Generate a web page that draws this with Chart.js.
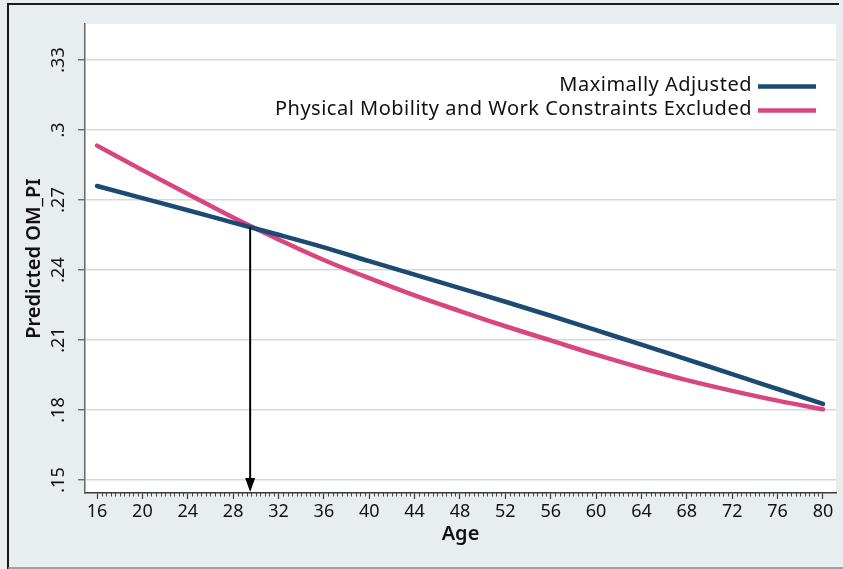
<!DOCTYPE html>
<html>
<head>
<meta charset="utf-8">
<script src="https://cdn.jsdelivr.net/npm/chart.js@4.4.1/dist/chart.umd.min.js"></script>
<style>
  html, body { margin: 0; padding: 0; background: #e8eef0; }
  #wrap { width: 843px; height: 569px; }
</style>
</head>
<body>
<div id="wrap"><canvas id="chart" width="843" height="569"></canvas></div>
<script>
// Age grid and predicted OM_PI for the two model specifications
const ages = [16, 20, 24, 28, 32, 36, 40, 44, 48, 52, 56, 60, 64, 68, 72, 76, 80];
const maximallyAdjusted = [0.2760, 0.2708, 0.2656, 0.2603, 0.2551, 0.2497, 0.2438, 0.2380, 0.2322,
                           0.2264, 0.2204, 0.2142, 0.2080, 0.2017, 0.1954, 0.1890, 0.1826];
const constraintsExcluded = [0.2933, 0.2828, 0.2726, 0.2625, 0.2531, 0.2443, 0.2365, 0.2291, 0.2224,
                             0.2159, 0.2098, 0.2037, 0.1980, 0.1928, 0.1882, 0.1840, 0.1803];
const seriesNames = ['Maximally Adjusted', 'Physical Mobility and Work Constraints Excluded'];

// Axis ticks
const xTicks = [16, 20, 24, 28, 32, 36, 40, 44, 48, 52, 56, 60, 64, 68, 72, 76, 80];
const yTicks = [0.15, 0.18, 0.21, 0.24, 0.27, 0.30, 0.33];
const yTickLabels = ['.15', '.18', '.21', '.24', '.27', '.3', '.33'];

// Age where the two curves meet
const crossingAge = 29.5;
const crossingValue = 0.2583;

const FONT = '"Noto Sans", "DejaVu Sans", sans-serif';
const NAVY = '#1b4a72';
const PINK = '#d9457f';

const framePlugin = {
  id: 'frame',
  beforeDraw(chart) {
    const { ctx, chartArea: a, width, height } = chart;
    ctx.save();
    ctx.fillStyle = '#e8eef0';
    ctx.fillRect(0, 0, width, height);
    ctx.fillStyle = '#ffffff';
    ctx.fillRect(a.left, a.top, a.right - a.left, a.bottom - a.top);
    ctx.strokeStyle = '#1a1a1a';
    ctx.lineWidth = 2;
    ctx.beginPath();
    ctx.moveTo(8, height);
    ctx.lineTo(8, 4);
    ctx.lineTo(839, 4);
    ctx.stroke();
    ctx.strokeStyle = '#888';
    ctx.lineWidth = 1.5;
    ctx.beginPath();
    ctx.moveTo(8, height - 1);
    ctx.lineTo(width, height - 1);
    ctx.stroke();
    ctx.restore();
  }
};

const decorPlugin = {
  id: 'decor',
  afterDatasetsDraw(chart) {
    const { ctx, scales: { x, y } } = chart;
    ctx.save();

    // minor ticks along the age axis
    ctx.strokeStyle = '#444';
    ctx.lineWidth = 1;
    const y0 = y.bottom;
    for (let i = 0; i <= 160; i++) {
      if (i % 10 === 0) continue;
      const px = Math.round(x.getPixelForValue(xTicks[0] + i * 0.4)) + 0.5;
      ctx.beginPath();
      ctx.moveTo(px, y0);
      ctx.lineTo(px, y0 + 3.5);
      ctx.stroke();
    }

    // arrow from the crossing point down to the age axis
    const ax = x.getPixelForValue(crossingAge);
    const ay = y.getPixelForValue(crossingValue);
    ctx.strokeStyle = '#000';
    ctx.fillStyle = '#000';
    ctx.lineWidth = 2;
    ctx.beginPath();
    ctx.moveTo(ax, ay);
    ctx.lineTo(ax, y0 - 12);
    ctx.stroke();
    ctx.beginPath();
    ctx.moveTo(ax, y0 - 1);
    ctx.lineTo(ax - 5, y0 - 15);
    ctx.lineTo(ax + 5, y0 - 15);
    ctx.closePath();
    ctx.fill();

    // legend in the upper right of the plot
    ctx.font = '20px ' + FONT;
    if ('letterSpacing' in ctx) ctx.letterSpacing = '0.5px';
    ctx.textAlign = 'right';
    ctx.textBaseline = 'middle';
    const rows = [85, 109];
    chart.data.datasets.forEach((ds, i) => {
      ctx.fillStyle = '#111';
      ctx.fillText(ds.label, 752, rows[i]);
      ctx.strokeStyle = ds.borderColor;
      ctx.lineWidth = 4.5;
      ctx.beginPath();
      ctx.moveTo(758, rows[i] + 1.5);
      ctx.lineTo(816, rows[i] + 1.5);
      ctx.stroke();
    });
    ctx.restore();
  }
};

new Chart(document.getElementById('chart'), {
  type: 'line',
  data: {
    datasets: [
      {
        label: seriesNames[0],
        data: ages.map((a, i) => ({ x: a, y: maximallyAdjusted[i] })),
        borderColor: NAVY,
        borderWidth: 4.5,
        borderCapStyle: 'round',
        cubicInterpolationMode: 'monotone',
        pointRadius: 0
      },
      {
        label: seriesNames[1],
        data: ages.map((a, i) => ({ x: a, y: constraintsExcluded[i] })),
        borderColor: PINK,
        borderWidth: 4.5,
        borderCapStyle: 'round',
        cubicInterpolationMode: 'monotone',
        pointRadius: 0
      }
    ]
  },
  options: {
    responsive: false,
    animation: false,
    events: [],
    layout: { padding: { left: 0, top: 24, right: 7, bottom: 0 } },
    plugins: { legend: { display: false }, tooltip: { enabled: false } },
    scales: {
      x: {
        type: 'linear',
        min: 14.94,
        max: 81.15,
        afterFit(s) { s.height = 76; },
        afterBuildTicks(s) { s.ticks = xTicks.map(v => ({ value: v })); },
        border: { color: '#3a3a3a', width: 1.5 },
        grid: { drawOnChartArea: false, drawTicks: true, tickLength: 6, tickColor: '#3a3a3a', tickWidth: 1.2 },
        ticks: { color: '#111', font: { family: FONT, size: 18 }, padding: 2, maxRotation: 0, autoSkip: false },
        title: { display: true, text: 'Age', color: '#111', font: { family: FONT, size: 20, weight: '600' }, padding: { top: 0, bottom: 23 } }
      },
      y: {
        min: 0.14443,
        max: 0.34543,
        afterFit(s) { s.width = 85; },
        afterBuildTicks(s) { s.ticks = yTicks.map(v => ({ value: v })); },
        border: { color: '#666', width: 1.5 },
        grid: { color: '#d3d9dc', lineWidth: 1.5, drawTicks: true, tickLength: 7, tickColor: '#555', tickWidth: 1.2 },
        ticks: {
          color: '#111',
          font: { family: FONT, size: 18 },
          padding: 6,
          minRotation: 90,
          maxRotation: 90,
          crossAlign: 'center',
          callback(v) { const k = yTicks.findIndex(t => Math.abs(t - v) < 1e-6); return k >= 0 ? yTickLabels[k] : ''; }
        },
        title: { display: true, text: 'Predicted OM_PI', color: '#111', font: { family: FONT, size: 20, weight: '600' }, padding: { top: 22, bottom: 0 } }
      }
    }
  },
  plugins: [framePlugin, decorPlugin]
});
</script>
</body>
</html>
